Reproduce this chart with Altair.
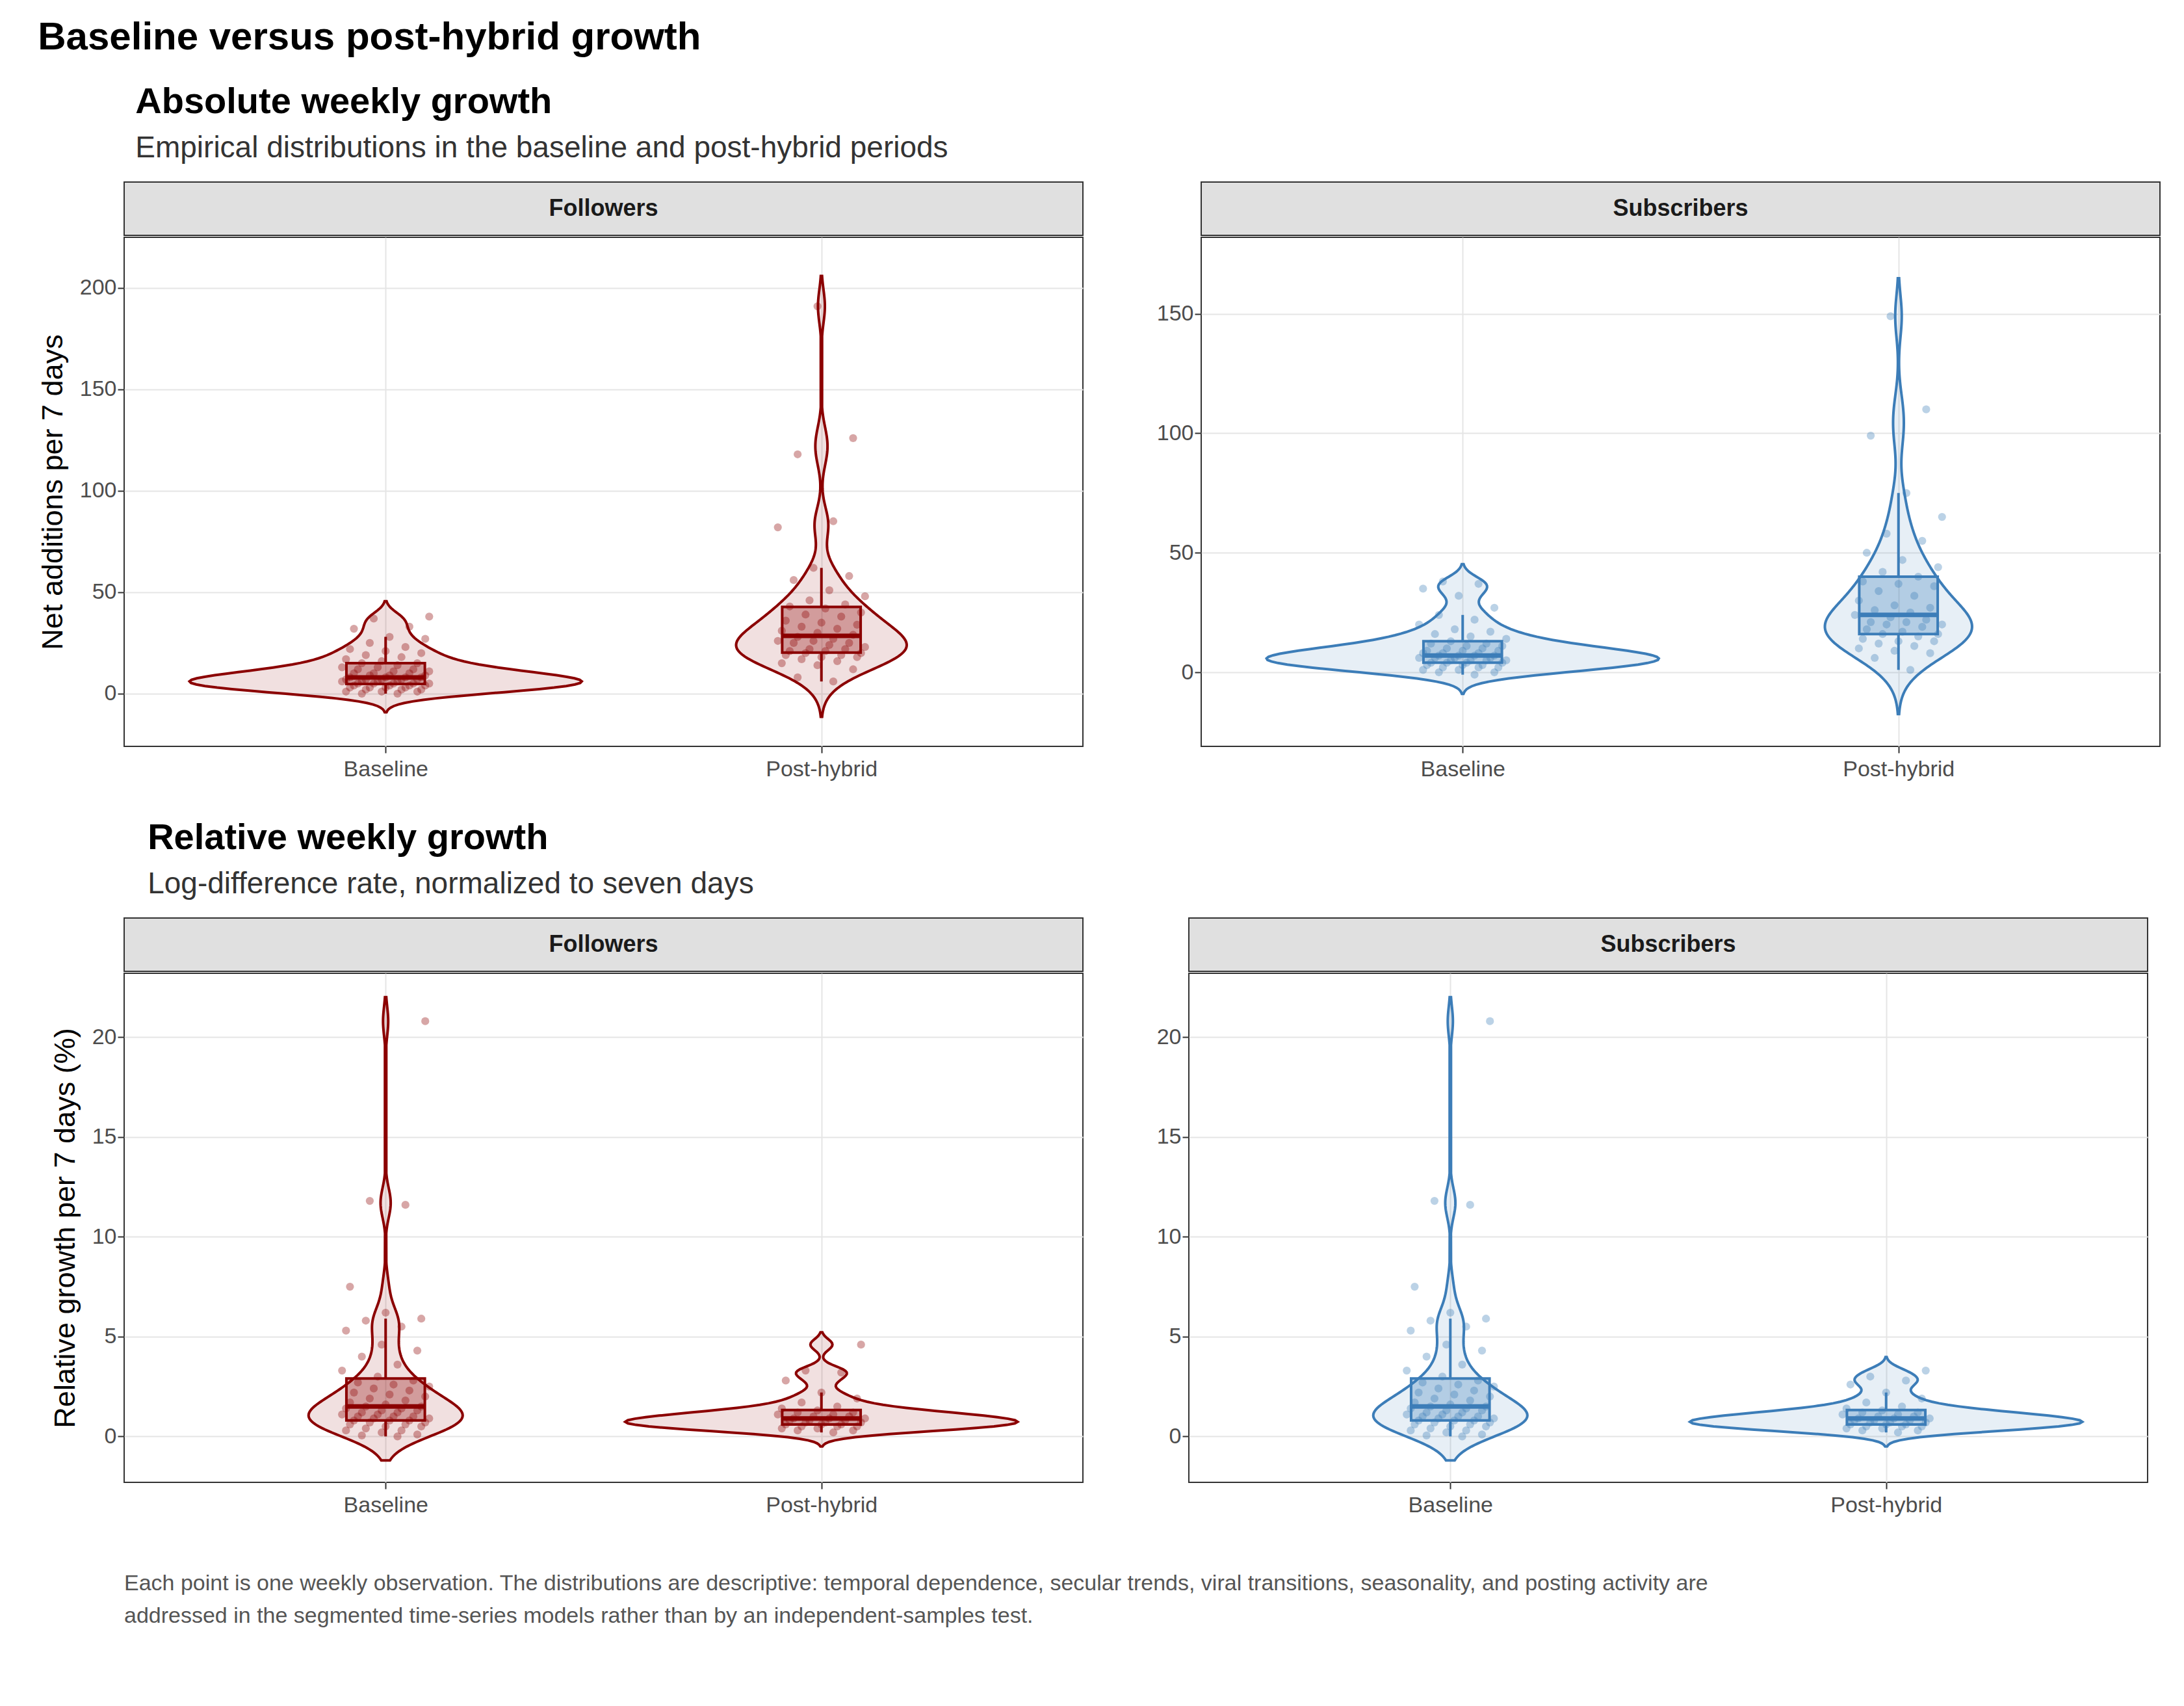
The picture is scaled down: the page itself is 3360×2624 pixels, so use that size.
import pandas as pd
import altair as alt

fol_abs_base = [0, 0, 1, 1, 1, 2, 2, 2, 3, 3, 3, 3, 4, 4, 4, 4, 5, 5, 5, 5, 5, 6, 6, 6, 6, 7, 7, 7, 7, 7,
                8, 8, 8, 8, 9, 9, 9, 10, 10, 10, 11, 11, 12, 12, 13, 13, 14, 15, 15, 16, 17, 18, 19, 20,
                21, 22, 23, 25, 27, 28, 32, 33, 37, 38]
fol_abs_post = [6, 8, 12, 14, 15, 16, 17, 18, 18, 19, 19, 20, 20, 21, 21, 22, 22, 23, 24, 25, 25, 26, 26,
                27, 28, 29, 30, 31, 32, 33, 34, 35, 36, 38, 39, 40, 42, 43, 44, 46, 48, 51, 56, 58, 62,
                82, 85, 118, 126, 191]
sub_abs_base = [-1, 0, 0, 1, 1, 2, 2, 2, 3, 3, 3, 4, 4, 4, 4, 5, 5, 5, 5, 6, 6, 6, 6, 7, 7, 7, 7, 8, 8, 8,
                9, 9, 9, 10, 10, 11, 11, 12, 12, 13, 14, 15, 16, 17, 18, 20, 22, 24, 27, 32, 35, 37, 38]
sub_abs_post = [1, 6, 8, 9, 10, 11, 12, 13, 13, 14, 15, 16, 16, 17, 18, 19, 20, 20, 21, 21, 22, 23, 24,
                25, 26, 27, 28, 30, 32, 34, 36, 37, 38, 40, 42, 44, 47, 50, 55, 58, 65, 75, 99, 110, 149]
rel_base = [0.0, 0.05, 0.1, 0.2, 0.3, 0.3, 0.4, 0.5, 0.5, 0.6, 0.6, 0.7, 0.7, 0.8, 0.8, 0.8, 0.9, 0.9,
            1.0, 1.0, 1.0, 1.1, 1.1, 1.2, 1.2, 1.3, 1.3, 1.4, 1.4, 1.5, 1.5, 1.6, 1.7, 1.8, 1.9, 2.0,
            2.1, 2.2, 2.3, 2.4, 2.5, 2.6, 2.7, 2.8, 3.0, 3.3, 3.6, 4.0, 4.3, 4.6, 5.3, 5.5, 5.8, 5.9,
            6.2, 7.5, 11.6, 11.8, 20.8]
fol_rel_post = [0.2, 0.3, 0.3, 0.4, 0.4, 0.5, 0.5, 0.5, 0.6, 0.6, 0.6, 0.7, 0.7, 0.7, 0.8, 0.8, 0.8,
                0.9, 0.9, 0.9, 1.0, 1.0, 1.1, 1.1, 1.2, 1.2, 1.3, 1.4, 1.5, 1.7, 1.9, 2.2, 2.8, 3.2,
                3.3, 4.6]
sub_rel_post = [0.2, 0.3, 0.3, 0.4, 0.4, 0.5, 0.5, 0.5, 0.6, 0.6, 0.6, 0.7, 0.7, 0.7, 0.8, 0.8, 0.8,
                0.9, 0.9, 0.9, 1.0, 1.0, 1.1, 1.1, 1.2, 1.2, 1.3, 1.4, 1.5, 1.7, 1.9, 2.2, 2.6, 2.8,
                3.0, 3.3]

RED = "#8B0000"
BLUE = "#3C7DB8"
FONT = "Liberation Sans"
W, H, STRIP = 1475, 783, 82


def frame(base, post):
    return pd.DataFrame({
        "period": ["Baseline"] * len(base) + ["Post-hybrid"] * len(post),
        "idx": [1] * len(base) + [2] * len(post),
        "v": base + post,
    })


def panel(df, color, label, ydom, extent, ytitle=None):
    b = alt.Chart(df)
    xs = alt.Scale(domain=[0.4, 2.6])
    xax = alt.Axis(values=[1, 2], labelExpr="datum.value == 1 ? 'Baseline' : 'Post-hybrid'",
                   title=None, grid=True, domain=False, labelFontSize=34, labelColor="#4d4d4d",
                   tickColor="#333", tickSize=10, tickWidth=2, labelPadding=8,
                   labelFont=FONT, gridColor="#e5e5e5", gridWidth=2)
    ys = alt.Scale(domain=ydom, nice=False, zero=False)
    yax = alt.Axis(title=ytitle, grid=True, domain=False, labelFontSize=34, labelColor="#4d4d4d",
                   tickColor="#333", tickSize=10, tickWidth=2, labelFont=FONT, titleFont=FONT,
                   titleFontSize=45, titleFontWeight="normal", titleColor="#000", titlePadding=18,
                   gridColor="#e5e5e5", gridWidth=2, tickCount=5)

    violin = b.transform_density(
        "v", groupby=["period", "idx"], as_=["v", "dens"], extent=extent, steps=300
    ).transform_joinaggregate(maxd="max(dens)").transform_filter(
        "datum.dens / datum.maxd > 0.003"
    ).transform_calculate(
        xl="datum.idx - datum.dens / datum.maxd * 0.45",
        xr="datum.idx + datum.dens / datum.maxd * 0.45",
    ).mark_area(orient="horizontal", fill=color, fillOpacity=0.12, stroke=color,
                strokeWidth=4).encode(
        y=alt.Y("v:Q", scale=ys, axis=yax),
        x=alt.X("xl:Q", scale=xs, axis=xax),
        x2="xr:Q",
        detail="period:N",
    )

    pts = b.transform_window(rn="row_number()", groupby=["period"]).transform_calculate(
        jx="datum.idx + (((datum.rn * 37) % 23) / 22 - 0.5) * 0.2"
    ).mark_circle(color=color, opacity=0.35, size=150).encode(
        x=alt.X("jx:Q", scale=xs), y=alt.Y("v:Q", scale=ys)
    )

    stats = b.transform_joinaggregate(
        q1="q1(v)", q3="q3(v)", groupby=["period"]
    ).transform_filter(
        "datum.v >= datum.q1 - 1.5 * (datum.q3 - datum.q1) && datum.v <= datum.q3 + 1.5 * (datum.q3 - datum.q1)"
    ).transform_aggregate(
        lo="min(v)", hi="max(v)", q1="max(q1)", q3="max(q3)", groupby=["period", "idx"]
    ).transform_calculate(bl="datum.idx - 0.09", br="datum.idx + 0.09")
    meds = b.transform_aggregate(med="median(v)", groupby=["period", "idx"]).transform_calculate(
        bl="datum.idx - 0.09", br="datum.idx + 0.09")

    box = stats.mark_rect(fill=color, fillOpacity=0.3, stroke=color, strokeWidth=4).encode(
        x=alt.X("bl:Q", scale=xs), x2="br:Q", y=alt.Y("q1:Q", scale=ys), y2="q3:Q")
    wlo = stats.mark_rule(color=color, strokeWidth=4).encode(
        x=alt.X("idx:Q", scale=xs), y=alt.Y("lo:Q", scale=ys), y2="q1:Q")
    whi = stats.mark_rule(color=color, strokeWidth=4).encode(
        x=alt.X("idx:Q", scale=xs), y=alt.Y("q3:Q", scale=ys), y2="hi:Q")
    med = meds.mark_rule(color=color, strokeWidth=7).encode(
        x=alt.X("bl:Q", scale=xs), x2="br:Q", y=alt.Y("med:Q", scale=ys))

    plot = alt.layer(violin, pts, wlo, whi, box, med).properties(width=W, height=H)

    sdf = pd.DataFrame({"label": [label]})
    strip = alt.layer(
        alt.Chart(sdf).mark_rect(fill="#e0e0e0", stroke="#333", strokeWidth=2).encode(
            x=alt.value(0), x2=alt.value(W), y=alt.value(0), y2=alt.value(STRIP)),
        alt.Chart(sdf).mark_text(font=FONT, fontSize=36, fontWeight="bold", color="#1a1a1a").encode(
            text="label:N", x=alt.value(W / 2), y=alt.value(STRIP / 2)),
    ).properties(width=W, height=STRIP)
    return alt.vconcat(strip, plot, spacing=0)


def row(left, right, title, subtitle):
    return alt.hconcat(left, right, spacing=110).properties(
        title=alt.TitleParams(title, subtitle=subtitle, anchor="start", font=FONT, fontSize=56,
                              fontWeight="bold", subtitleFont=FONT, subtitleFontSize=46,
                              subtitleColor="#333", subtitlePadding=20, offset=26, dx=150)
    )


row1 = row(
    panel(frame(fol_abs_base, fol_abs_post), RED, "Followers", [-26, 225], [-16, 212],
          "Net additions per 7 days"),
    panel(frame(sub_abs_base, sub_abs_post), BLUE, "Subscribers", [-31, 182], [-22, 172]),
    "Absolute weekly growth", "Empirical distributions in the baseline and post-hybrid periods",
)
row2 = row(
    panel(frame(rel_base, fol_rel_post), RED, "Followers", [-2.3, 23.2], [-1.2, 22],
          "Relative growth per 7 days (%)"),
    panel(frame(rel_base, sub_rel_post), BLUE, "Subscribers", [-2.3, 23.2], [-1.2, 22]),
    "Relative weekly growth", "Log-difference rate, normalized to seven days",
)

note_lines = [
    "Each point is one weekly observation. The distributions are descriptive: temporal dependence, secular trends, viral transitions, seasonality, and posting activity are",
    "addressed in the segmented time-series models rather than by an independent-samples test.",
]
note = alt.Chart(pd.DataFrame({"line": note_lines, "i": [0, 1]})).mark_text(
    align="left", baseline="top", font=FONT, fontSize=34, color="#555"
).encode(text="line:N", x=alt.value(0), y=alt.Y("i:O", axis=None)).properties(
    width=3000, height=100, view=alt.ViewBackground(stroke="transparent"))

chart = alt.vconcat(row1, row2, note, spacing=60).properties(
    title=alt.TitleParams("Baseline versus post-hybrid growth", anchor="start", font=FONT,
                          fontSize=60, fontWeight="bold", offset=40),
    padding={"left": 50, "top": 20, "right": 20, "bottom": 10},
).configure_view(stroke="#333", strokeWidth=2)

chart.save("out.html", embed_options={"renderer": "svg", "actions": False})
